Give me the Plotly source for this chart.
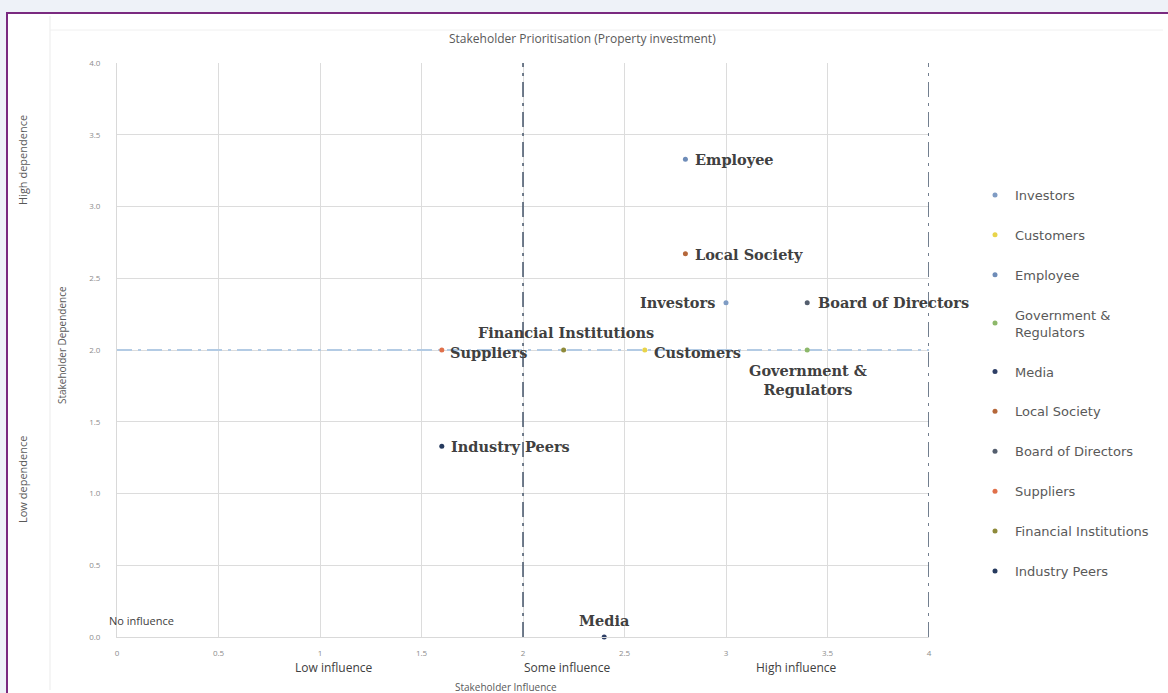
import plotly.graph_objects as go

# Stakeholder positions: influence (x) vs dependence (y)
stakeholders = ["Investors", "Customers", "Employee", "Government &<br>Regulators", "Media",
                "Local Society", "Board of Directors", "Suppliers", "Financial Institutions",
                "Industry Peers"]
influence = [3.0, 2.6, 2.8, 3.4, 2.4, 2.8, 3.4, 1.6, 2.2, 1.6]
dependence = [2.33, 2.0, 3.33, 2.0, 0.0, 2.67, 2.33, 2.0, 2.0, 1.33]
colors = ["#7F9CC4", "#E8D44A", "#6E8CB8", "#8DB86A", "#2E3F66",
          "#B5673A", "#545E6E", "#E0704A", "#8E8A3A", "#263A5E"]

# label placement relative to each point: (xanchor, yanchor, xshift, yshift)
label_place = [
    ("right", "middle", -9, 0),
    ("left", "middle", 7, -2),
    ("left", "middle", 8, 0),
    ("center", "top", 1, -10),
    ("center", "middle", 0, 17),
    ("left", "middle", 8, -1),
    ("left", "middle", 9, 0),
    ("left", "middle", 6, -2),
    ("center", "middle", 2, 18),
    ("left", "middle", 7, 0),
]

x_ticks = [0, 0.5, 1, 1.5, 2, 2.5, 3, 3.5, 4]
x_tick_text = ["0", "0.5", "1", "1.5", "2", "2.5", "3", "3.5", "4"]
y_ticks = [0, 0.5, 1, 1.5, 2, 2.5, 3, 3.5, 4]
y_tick_text = ["0.0", "0.5", "1.0", "1.5", "2.0", "2.5", "3.0", "3.5", "4.0"]

W, H = 1168, 693
L, R, T, B = 117, 239, 63, 56
PW, PH = W - L - R, H - T - B


def px(x):
    return (x - L) / PW


def py(y):
    return (H - B - y) / PH


fig = go.Figure()

# the dependence midline is drawn first so the markers sit on top of it
fig.add_trace(go.Scatter(
    x=[0, 4], y=[2, 2], mode="lines", showlegend=False, hoverinfo="skip",
    line=dict(color="#B3CBE4", width=2, dash="longdashdot"),
))

for i, name in enumerate(stakeholders):
    fig.add_trace(go.Scatter(
        x=[influence[i]], y=[dependence[i]], mode="markers", name=name,
        marker=dict(color=colors[i], size=5, symbol="circle"),
        legendgroup=name, cliponaxis=False,
    ))

shapes = [
    # background strip and framed panel
    dict(type="rect", xref="paper", yref="paper", x0=px(0), x1=px(W), y0=py(H), y1=py(0),
         fillcolor="#EEF2F8", line=dict(width=0), layer="below"),
    dict(type="rect", xref="paper", yref="paper", x0=px(7), x1=px(W + 5), y0=py(H + 5), y1=py(13),
         fillcolor="white", line=dict(color="#7A2A80", width=2), layer="below"),
    dict(type="line", xref="paper", yref="paper", x0=px(50), x1=px(50), y0=py(690), y1=py(16),
         line=dict(color="#EBEBEB", width=1), layer="below"),
    dict(type="line", xref="paper", yref="paper", x0=px(50), x1=px(1163), y0=py(30), y1=py(30),
         line=dict(color="#F0F0F0", width=1), layer="below"),
    # influence quadrant separators
    dict(type="line", xref="x", yref="y", x0=2, x1=2, y0=0, y1=4,
         line=dict(color="#44546A", width=1.5, dash="longdashdot")),
    dict(type="line", xref="x", yref="y", x0=4, x1=4, y0=0, y1=4,
         line=dict(color="#44546A", width=1.5, dash="longdashdot")),
]

annotations = [
    dict(text="Stakeholder Prioritisation (Property investment)", x=px(582), y=py(38),
         font=dict(size=12, color="#595959")),
    dict(text="Stakeholder Influence", x=px(506), y=py(687), font=dict(size=10, color="#595959")),
    dict(text="Stakeholder Dependence", x=px(62), y=py(345), textangle=-90,
         font=dict(size=10, color="#595959")),
    dict(text="High dependence", x=px(22), y=py(160), textangle=-90,
         font=dict(size=11, color="#595959")),
    dict(text="Low dependence", x=px(22), y=py(480), textangle=-90,
         font=dict(size=11, color="#595959")),
    dict(text="No influence", x=px(141), y=py(620), font=dict(size=11, color="#404040")),
    dict(text="Low influence", x=px(334), y=py(667), font=dict(size=12, color="#404040")),
    dict(text="Some influence", x=px(567), y=py(667), font=dict(size=12, color="#404040")),
    dict(text="High influence", x=px(796), y=py(667), font=dict(size=12, color="#404040")),
]
for a in annotations:
    a.update(xref="paper", yref="paper", showarrow=False, xanchor="center", yanchor="middle",
             font=dict(family="Open Sans", **a["font"]))

# data labels naming each stakeholder
for i, name in enumerate(stakeholders):
    xa, ya, xs, ys = label_place[i]
    annotations.append(dict(
        x=influence[i], y=dependence[i], xref="x", yref="y", text=name, showarrow=False,
        xanchor=xa, yanchor=ya, xshift=xs, yshift=ys, align="center",
        font=dict(family="DejaVu Serif", size=14.5, color="#404040", weight="bold"),
    ))

fig.update_layout(
    width=W, height=H,
    margin=dict(l=L, r=R, t=T, b=B),
    paper_bgcolor="white", plot_bgcolor="white",
    font=dict(family="Open Sans", color="#595959"),
    shapes=shapes, annotations=annotations,
    legend=dict(x=px(975), y=py(180), xanchor="left", yanchor="top",
                font=dict(size=13, color="#595959", family="DejaVu Sans"),
                tracegroupgap=20, itemwidth=30, bgcolor="rgba(0,0,0,0)"),
    xaxis=dict(range=[0, 4], tickvals=x_ticks, ticktext=x_tick_text,
               showgrid=True, gridcolor="#DCDCDC", zeroline=False,
               showline=True, linecolor="#D9D9D9", ticks="", ticklabelstandoff=8,
               tickfont=dict(size=8, color="#8C8C8C")),
    yaxis=dict(range=[0, 4], tickvals=y_ticks, ticktext=y_tick_text,
               showgrid=True, gridcolor="#DCDCDC", zeroline=False,
               showline=True, linecolor="#D9D9D9", ticks="", ticklabelstandoff=14,
               tickfont=dict(size=8, color="#8C8C8C")),
)

fig.write_html("out.html")
